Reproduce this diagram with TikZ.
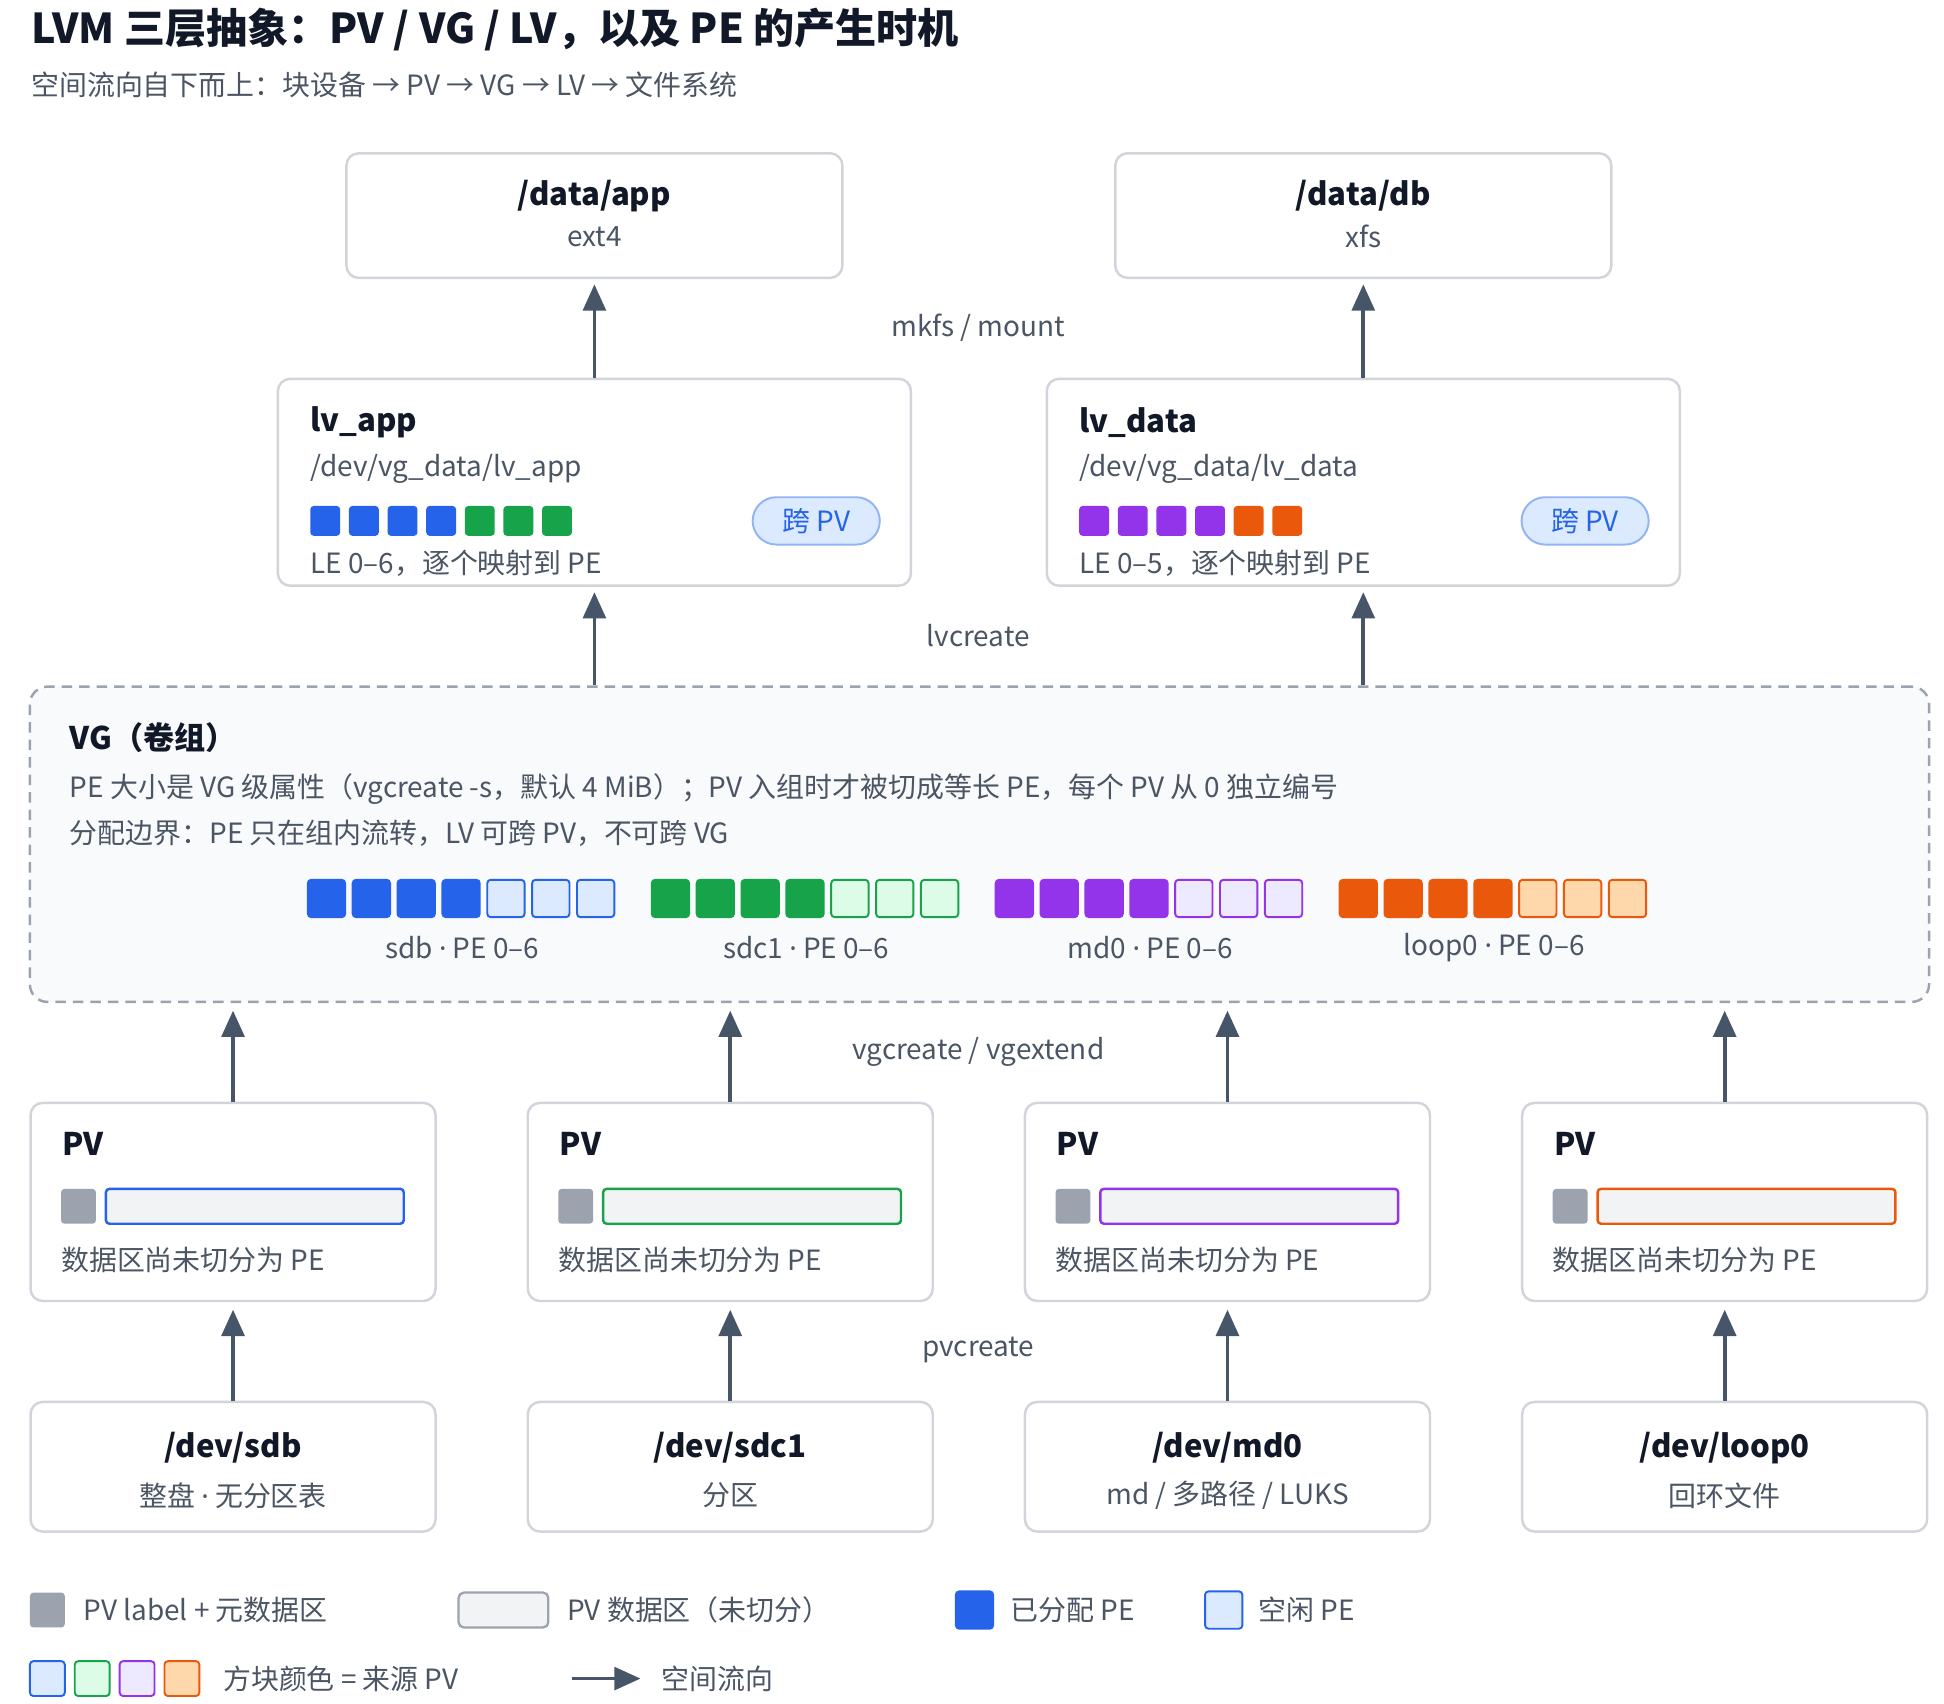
\documentclass[tikz,border=0pt]{standalone}
\usepackage{fontspec}
\setmainfont{Noto Sans CJK SC}
\newfontfamily\lat{Noto Sans}
\usetikzlibrary{arrows.meta}
\definecolor{cB}{HTML}{2563EB}\definecolor{lB}{HTML}{DBEAFE}
\definecolor{cG}{HTML}{16A34A}\definecolor{lG}{HTML}{DCFCE7}
\definecolor{cP}{HTML}{9333EA}\definecolor{lP}{HTML}{EDE9FE}
\definecolor{cO}{HTML}{EA580C}\definecolor{lO}{HTML}{FED7AA}
\definecolor{gr}{HTML}{9CA3AF}\definecolor{bd}{HTML}{D1D5DB}
\definecolor{dk}{HTML}{111827}\definecolor{tx}{HTML}{4B5563}
\definecolor{ar}{HTML}{475569}\definecolor{bar}{HTML}{F1F3F5}
\definecolor{vgf}{HTML}{F8FAFC}
\newcommand{\fs}[1]{\fontsize{\fpeval{#1*1.4226}pt}{\fpeval{#1*1.7}pt}\selectfont}
\newcommand{\dt}{{\lat ·}}
\begin{document}
\begin{tikzpicture}[x=0.05cm,y=-0.05cm,
 wh/.style 2 args={minimum width=#1*0.05cm,minimum height=#2*0.05cm},
 box/.style={draw=bd,line width=2.8pt,rounded corners=14pt,fill=white,inner sep=0},
 ttl/.style={font=\fs{25}\bfseries,text=dk,inner sep=0},
 sub/.style={font=\fs{22.4},text=tx,inner sep=0},
 lbl/.style={font=\fs{22.4},text=tx,inner sep=0},
 flow/.style={draw=ar,line width=4.2pt,-{Triangle[length=30pt,width=26pt]}},
 sq/.style={rounded corners=4pt,line width=2.2pt,inner sep=0,wh={#1}{#1}},
 sq/.default=24]
\useasboundingbox (0,0) rectangle (1560,1367);
\fill[white] (0,0) rectangle (1560,1367);
\node[anchor=west,font=\fs{33}\bfseries,text=dk,inner sep=0] (title) at (25,24) {LVM 三层抽象：PV / VG / LV，以及 PE 的产生时机};
\node[anchor=west,font=\fs{22.4},text=tx,inner sep=0] (subtitle) at (25,68) {空间流向自下而上：块设备 → PV → VG → LV → 文件系统};
% FS
\node[box,wh={398}{100}] (fsa) at (477,173) {};
\node[ttl] at (477,157) {/data/app}; \node[sub] at (477,190) {ext4};
\node[box,wh={398}{100}] (fsb) at (1094,173) {};
\node[ttl] at (1094,157) {/data/db}; \node[sub] at (1094,190) {xfs};
% LV
\node[box,wh={508}{166}] (lva) at (477,387) {};
\node[box,wh={508}{166}] (lvb) at (1094,387) {};
\node[ttl,anchor=west] at (249,339) {lv\_app};
\node[sub,anchor=west] at (249,376) {/dev/vg\_data/lv\_app};
\node[sub,anchor=west] at (249,452) {LE 0–6，逐个映射到 PE};
\node[ttl,anchor=west] at (866,339) {lv\_data};
\node[sub,anchor=west] at (866,376) {/dev/vg\_data/lv\_data};
\node[sub,anchor=west] at (866,452) {LE 0–5，逐个映射到 PE};
\foreach \i/\c in {0/cB,1/cB,2/cB,3/cB,4/cG,5/cG,6/cG}
  \node[sq,fill=\c] (lea\i) at (261+31*\i,418) {};
\foreach \i/\c in {0/cP,1/cP,2/cP,3/cP,4/cO,5/cO}
  \node[sq,fill=\c] (leb\i) at (878+31*\i,418) {};
\node[draw=lB!60!cB,line width=2.2pt,fill=lB,rounded corners=27pt,wh={102}{38},inner sep=0,text=cB,font=\fs{22.4}] (pa) at (655,418) {跨 PV};
\node[draw=lB!60!cB,line width=2.2pt,fill=lB,rounded corners=27pt,wh={102}{38},inner sep=0,text=cB,font=\fs{22.4}] (pb) at (1272,418) {跨 PV};
% VG
\node[draw=gr,dash pattern=on 12pt off 8pt,line width=2.8pt,rounded corners=20pt,fill=vgf,wh={1524}{253},inner sep=0] (vg) at (786,677.5) {};
\node[ttl,anchor=west] at (56,592) {VG（卷组）};
\node[sub,anchor=west] at (56,633) {PE 大小是 VG 级属性（vgcreate -s，默认 4 MiB）；PV 入组时才被切成等长 PE，每个 PV 从 0 独立编号};
\node[sub,anchor=west] at (56,669) {分配边界：PE 只在组内流转，LV 可跨 PV，不可跨 VG};
\foreach \s/\c/\l/\n/\x in {a/cB/lB/sdb/247,b/cG/lG/sdc1/523,c/cP/lP/md0/799,d/cO/lO/loop0/1075}{
  \foreach \i in {0,...,6}{
    \ifnum\i<4 \node[sq=30,fill=\c,draw=\c] (pe\s\i) at (\x+15+36*\i,721) {};
    \else \node[sq=30,fill=\l,draw=\c] (pe\s\i) at (\x+15+36*\i,721) {};\fi}
  \node[lbl] at (\x+124,760) {\n\ \dt\ PE 0–6};
}
% PV and devices
\foreach \k/\x/\c/\d/\s in {1/187/cB/sdb/{整盘 \dt\ 无分区表},2/586/cG/sdc1/{分区},3/985/cP/md0/{md / 多路径 / LUKS},4/1384/cO/loop0/{回环文件}}{
  \node[box,wh={325}{159}] (pv\k) at (\x,964.5) {};
  \node[ttl,anchor=west] at (\x-137,918) {PV};
  \node[sq=28,fill=gr] (lab\k) at (\x-124,968) {};
  \node[draw=\c,fill=bar,line width=2.8pt,rounded corners=4pt,wh={239}{28},inner sep=0] (dat\k) at (\x+17.5,968) {};
  \node[sub,anchor=west] at (\x-138,1011) {数据区尚未切分为 PE};
  \node[box,wh={325}{104}] (dev\k) at (\x,1177) {};
  \node[ttl] at (\x,1162) {/dev/\d};
  \node[sub] at (\x,1200) {\s};
  \draw[flow] (dev\k.north) -- ++(0,-73);
  \draw[flow] (pv\k.north) -- ++(0,-73);
}
\draw[flow] (lva.north) -- ([yshift=-6pt]fsa.south);
\draw[flow] (lvb.north) -- ([yshift=-6pt]fsb.south);
\draw[flow] (vg.north-|lva) -- ([yshift=-6pt]lva.south);
\draw[flow] (vg.north-|lvb) -- ([yshift=-6pt]lvb.south);
\node[lbl] at (785,263) {mkfs / mount};
\node[lbl] at (785,510) {lvcreate};
\node[lbl] at (785,844) {vgcreate / vgextend};
\node[lbl] at (785,1083) {pvcreate};
% legend
\node[sq=28,fill=gr] (lg1) at (38,1292) {};
\node[lbl,anchor=west] at (67,1292) {PV label + 元数据区};
\node[draw=gr,fill=bar,line width=2.6pt,rounded corners=6pt,wh={72}{28},inner sep=0] (lg2) at (404,1292) {};
\node[lbl,anchor=west] at (455,1292) {PV 数据区（未切分）};
\node[sq=30,fill=cB,draw=cB] (lg3) at (782,1292) {};
\node[lbl,anchor=west] at (811,1292) {已分配 PE};
\node[sq=30,fill=lB,draw=cB] (lg4) at (982,1292) {};
\node[lbl,anchor=west] at (1010,1292) {空闲 PE};
\foreach \i/\c/\l in {0/cB/lB,1/cG/lG,2/cP/lP,3/cO/lO}
  \node[sq=28,fill=\l,draw=\c] (lc\i) at (38+36*\i,1347) {};
\node[lbl,anchor=west] at (179,1347) {方块颜色 = 来源 PV};
\coordinate (la) at (459,1347); \coordinate (lb) at (514,1347);
\draw[flow] (la) -- (lb);
\node[lbl,anchor=west] at (531,1347) {空间流向};
\end{tikzpicture}
\end{document}
